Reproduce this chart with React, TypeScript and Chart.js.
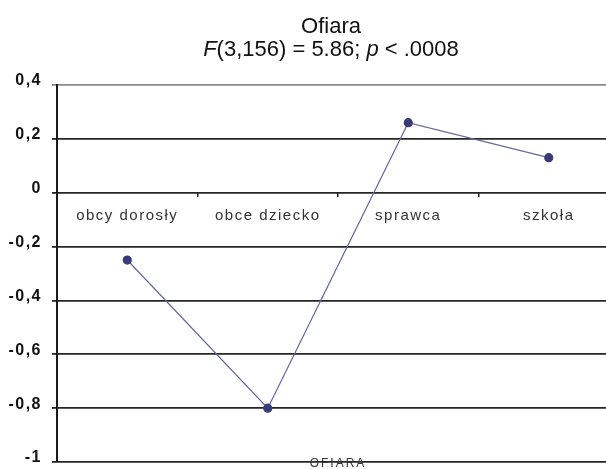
import React, { useEffect, useRef } from "react";
import { Chart, registerables } from "chart.js";

Chart.register(...registerables);

const categories = ["obcy dorosły", "obce dziecko", "sprawca", "szkoła"];
const values = [-0.25, -0.8, 0.26, 0.13];
const yMin = -1;
const yMax = 0.4;
const yStep = 0.2;
const titleLine1 = "Ofiara";
const axisTitle = "OFIARA";

const spacingPlugin = {
  id: "spacing",
  beforeDraw(chart: any) {
    chart.ctx.letterSpacing = "1.5px";
  },
  afterDraw(chart: any) {
    chart.ctx.letterSpacing = "0px";
  },
};

export default function App() {
  const ref = useRef<HTMLCanvasElement | null>(null);
  useEffect(() => {
    if (!ref.current) return;
    const chart = new Chart(ref.current, {
      type: "line",
      data: {
        labels: categories,
        datasets: [
          {
            data: values,
            borderColor: "#6565a6",
            borderWidth: 1.2,
            pointBackgroundColor: "#3a3a78",
            pointBorderColor: "#3a3a78",
            pointRadius: 4,
            pointStyle: "circle",
            tension: 0,
          },
        ],
      },
      options: {
        animation: false,
        responsive: false,
        events: [],
        layout: { autoPadding: false, padding: { top: 85, right: 0, bottom: 7, left: 0 } },
        plugins: {
          legend: { display: false },
          title: { display: false },
          tooltip: { enabled: false },
        },
        scales: {
          x: {
            type: "category",
            offset: true,
            position: { y: 0 } as any,
            afterFit(scale: any) {
              scale.height = 0;
              scale.paddingLeft = 0;
              scale.paddingRight = 0;
              scale.paddingTop = 0;
              scale.paddingBottom = 0;
            },
            border: { display: false },
            grid: {
              offset: true,
              drawOnChartArea: false,
              drawTicks: true,
              tickLength: 4,
              color: "#222",
              lineWidth: 1.5,
            },
            ticks: {
              color: "#333",
              padding: 10,
              font: { family: "'Liberation Sans', Arial, sans-serif", size: 15 },
              maxRotation: 0,
              autoSkip: false,
            },
          },
          y: {
            min: yMin,
            max: yMax,
            afterFit(scale: any) {
              scale.width = 57;
              scale.paddingTop = 0;
              scale.paddingBottom = 0;
            },
            border: { display: true, color: "#1a1a1a", width: 2 },
            grid: {
              color: (ctx: any) => (ctx.tick && ctx.tick.value >= yMax - 1e-9 ? "#8a8a8a" : "#262626"),
              lineWidth: 1.8,
              drawTicks: true,
              tickLength: 5,
            },
            ticks: {
              stepSize: yStep,
              color: "#111",
              padding: 10,
              labelOffset: -4,
              font: { family: "'Liberation Sans', Arial, sans-serif", size: 16, weight: "bold" },
              callback: (v: any) => String(Math.round(Number(v) * 10) / 10).replace(".", ","),
            },
          },
        },
      },
      plugins: [spacingPlugin],
    });
    return () => chart.destroy();
  }, []);

  return (
    <div style={{ position: "absolute", left: 0, top: 0, width: 606, height: 469, background: "#fff", overflow: "hidden" }}>
      <canvas ref={ref} width={619} height={469} style={{ position: "absolute", left: 0, top: 0 }} />
      <div
        style={{
          position: "absolute",
          left: 31,
          width: 600,
          top: 14,
          textAlign: "center",
          fontFamily: "'Liberation Sans', Arial, sans-serif",
          fontSize: 22,
          lineHeight: "23px",
          color: "#111",
        }}
      >
        <div>{titleLine1}</div>
        <div>
          <i>F</i>(3,156) = 5.86; <i>p</i> &lt; .0008
        </div>
      </div>
      <div
        style={{
          position: "absolute",
          left: 38,
          width: 600,
          top: 456,
          textAlign: "center",
          fontFamily: "'Liberation Sans', Arial, sans-serif",
          fontSize: 12,
          letterSpacing: "2px",
          color: "#333",
        }}
      >
        {axisTitle}
      </div>
    </div>
  );
}
